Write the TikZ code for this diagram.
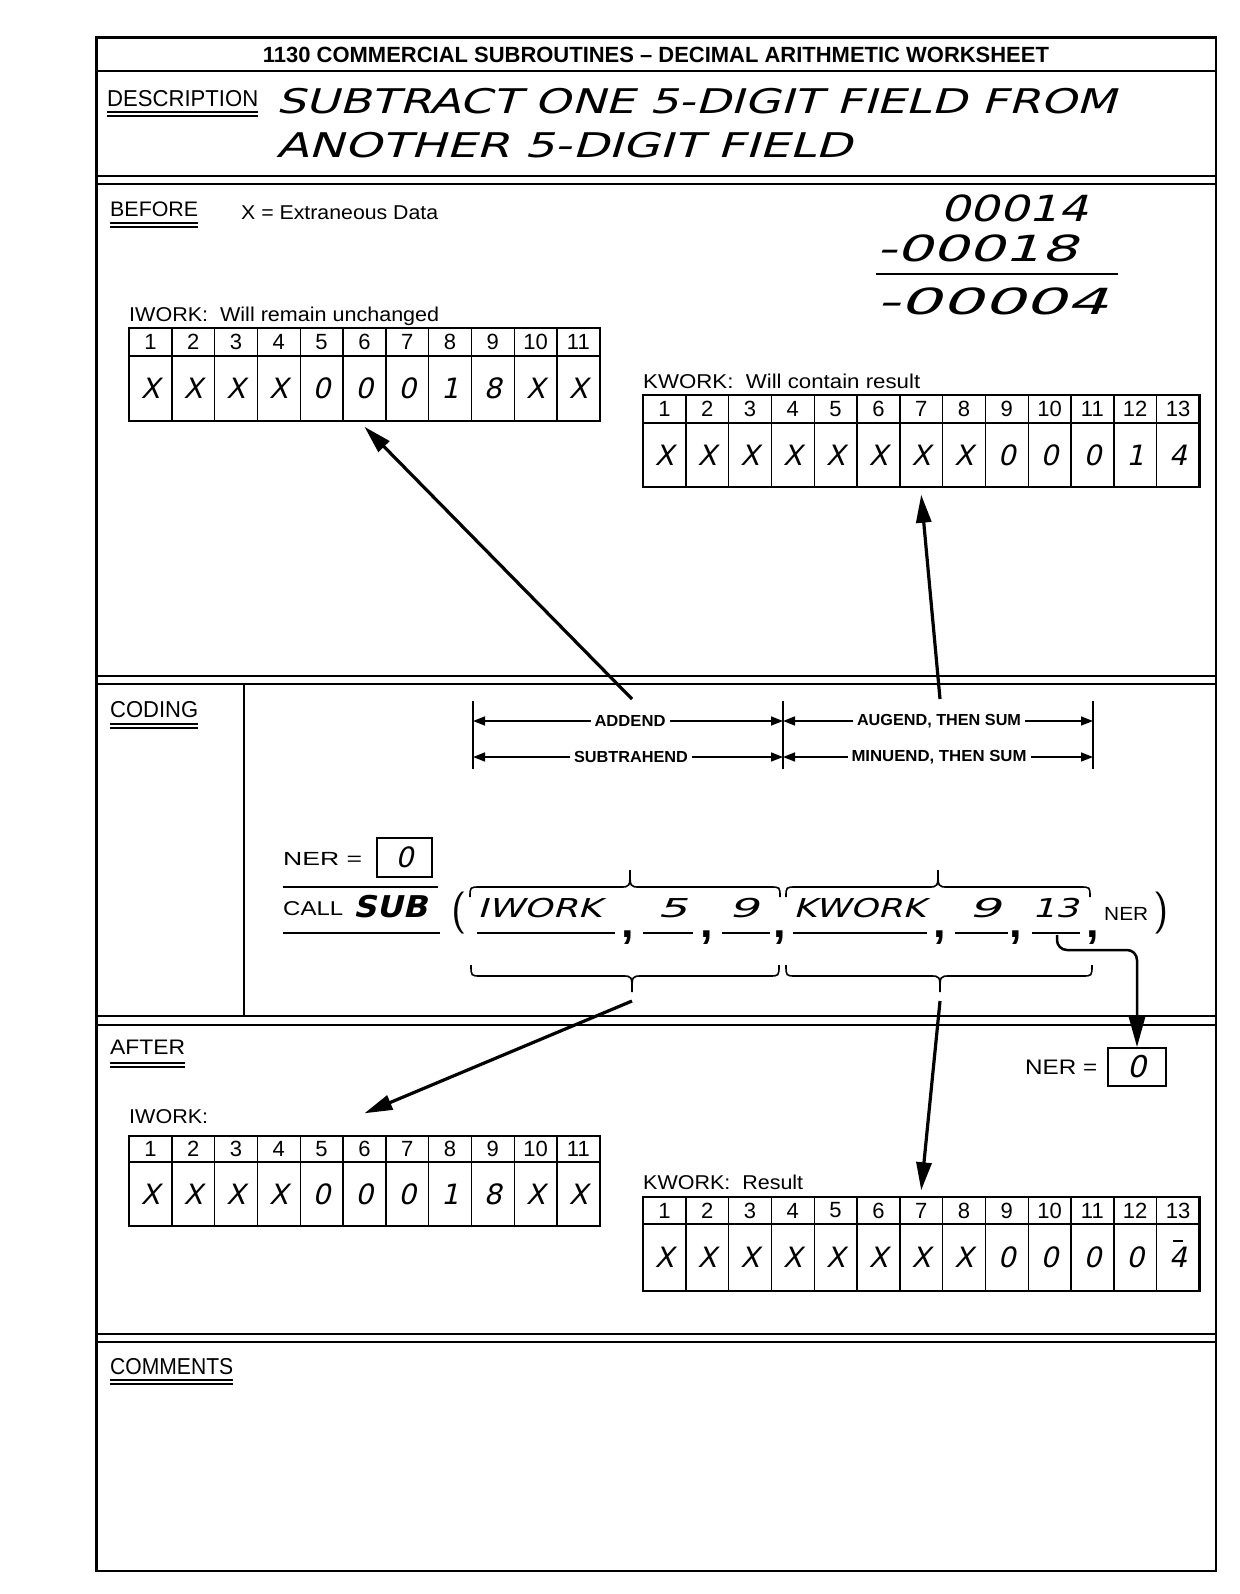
\documentclass[tikz,border=0pt]{standalone}
\usepackage{fontspec}
\usepackage{graphicx}
\setmainfont{Liberation Sans}
\newfontfamily\hand{DejaVu Sans}[FakeSlant=0.22]
\usetikzlibrary{arrows.meta}
\newcommand\fw[2]{\resizebox{#1pt}{\height}{#2}}
\newcommand\fsz[1]{\fontsize{#1}{#1}\selectfont}
\tikzset{
  txt/.style={inner sep=0, anchor=base west},
  frame/.style={line width=2.2pt},
  septhin/.style={line width=1.8pt},
  septhick/.style={line width=2.6pt},
  uline/.style={line width=1.7pt},
  argline/.style={line width=2pt},
  heavy/.style={line width=3.2pt, -{Triangle[length=28pt,width=15pt]}},
  dim/.style={line width=1.5pt, {Triangle[length=12pt,width=9pt]}-{Triangle[length=12pt,width=9pt]}},
  dlab/.style={fill=white, inner xsep=4pt, inner ysep=1pt, font=\bfseries\fsz{16}},
  brc/.style={line width=1.6pt},
  hcell/.style={draw, line width=1.4pt, inner sep=0, minimum width=42.8pt, font=\fsz{22}},
  vcell/.style={draw, line width=1.4pt, inner sep=0, minimum width=42.8pt, font=\hand\fsz{28}},
  valbox/.style={draw, line width=2pt, inner sep=0, font=\hand\fsz{28}},
}
\newcommand\wtable[7]{%
  \foreach \v [count=\i] in {#7} {%
    \node[hcell, minimum height={(#4)-(#3)}] (#1h\i) at ({#2+(\i-0.5)*42.8},{((#3)+(#4))/2}) {\i};
    \node[vcell, minimum height={(#5)-(#4)}] (#1v\i) at ({#2+(\i-0.5)*42.8},{((#4)+(#5))/2}) {\v};
  }%
  \draw[line width=2.2pt] (#2,#3) rectangle ({#2+#6*42.8},#5);
}
\newcommand\bracepath[6]{%
  \draw[brc] (#1,#4) .. controls (#1,#5) .. ({#1+10},#5) -- ({#2-10},#5)
    .. controls (#2,#5) .. (#2,#6) .. controls (#2,#5) .. ({#2+10},#5)
    -- ({#3-10},#5) .. controls (#3,#5) .. (#3,#4);
}
\newcommand\dul[3]{%
  \draw[uline] (#1,#3) -- (#2,#3);
  \draw[uline] (#1,{#3+4}) -- (#2,{#3+4});
}
\begin{document}
\begin{tikzpicture}[x=1pt,y=-1pt]
\useasboundingbox (0,0) rectangle (1239,1594);
\fill[white] (0,0) rectangle (1239,1594);

% frame and separators
\draw[frame] (96.5,37.5) rectangle (1216,1571);
\draw[frame] (96.5,71) -- (1216,71);
\foreach \a/\b in {176/184, 676/684, 1016/1025, 1334/1342} {
  \draw[septhin] (96.5,\a) -- (1216,\a);
  \draw[septhick] (96.5,\b) -- (1216,\b);
}
\draw[frame] (244,684) -- (244,1016);

% title
\node[inner sep=0, anchor=base] (title) at (656,63)
  {\fw{786}{\bfseries\fsz{22}1130 COMMERCIAL SUBROUTINES – DECIMAL ARITHMETIC WORKSHEET}};

% description
\node[txt] (desc) at (107,107) {\fw{151}{\fsz{23}DESCRIPTION}};
\dul{107}{258}{112}
\node[txt] (d1) at (276,114) {\fw{840}{\hand\fsz{34}SUBTRACT ONE 5-DIGIT FIELD FROM}};
\node[txt] (d2) at (276,158) {\fw{576}{\hand\fsz{34}ANOTHER 5-DIGIT FIELD}};

% before
\node[txt] (before) at (110,217) {\fw{88}{\fsz{21}BEFORE}};
\dul{110}{198}{223}
\node[txt] (xdata) at (241,220) {\fw{197}{\fsz{20}X = Extraneous Data}};
\node[txt] (c1) at (940,222) {\fw{148}{\hand\fsz{36}00014}};
\node[txt] (c2) at (876,262) {\fw{201}{\hand\fsz{36}-00018}};
\draw[line width=2pt] (876,274) -- (1118,274);
\node[txt] (c3) at (876,315) {\fw{232}{\hand\fsz{36}-00004}};

\node[txt] (iwl) at (129,322) {\fw{310}{\fsz{20}IWORK:\ \ Will remain unchanged}};
\wtable{ib}{129}{328}{356}{421}{11}{X,X,X,X,0,0,0,1,8,X,X}
\node[txt] (kwl) at (643,388) {\fw{277}{\fsz{20}KWORK:\ \ Will contain result}};
\wtable{kb}{643}{395}{423}{487}{13}{X,X,X,X,X,X,X,X,0,0,0,1,4}

\coordinate (a1s) at (632,699);
\coordinate (a2s) at (940,699);
\draw[heavy] (a1s) -- ([yshift=-5pt]ibv6.south);
\draw[heavy] (a2s) -- ([yshift=-7pt]kbv7.south);

% coding
\node[txt] (coding) at (110,717) {\fw{88}{\fsz{23}CODING}};
\dul{110}{198}{724}
\coordinate (t1a) at (473,701); \coordinate (t1b) at (473,769);
\coordinate (t2a) at (783,701); \coordinate (t2b) at (783,769);
\coordinate (t3a) at (1093,701); \coordinate (t3b) at (1093,769);
\coordinate (r1) at (0,721); \coordinate (r2) at (0,757);
\foreach \t in {1,2,3} \draw[line width=1.5pt] (t\t a) -- (t\t b);
\draw[dim] (t1a |- r1) -- (t2a |- r1);
\draw[dim] (t2a |- r1) -- (t3a |- r1);
\draw[dim] (t1a |- r2) -- (t2a |- r2);
\draw[dim] (t2a |- r2) -- (t3a |- r2);
\node[dlab] (addend) at (630,721) {\fw{71}{ADDEND}};
\node[dlab] (augend) at (939,721) {\fw{164}{AUGEND, THEN SUM}};
\node[dlab] (subtr) at (631,757) {\fw{114}{SUBTRAHEND}};
\node[dlab] (minuend) at (939,757) {\fw{175}{MINUEND, THEN SUM}};

\node[txt] (nerlab) at (283,865) {\fw{79}{\fsz{19}NER =}};
\node[valbox, minimum width=55pt, minimum height=39pt] (nerC) at (404.5,857.5) {0};
\draw[line width=2.5pt] (283,887) -- (438,887);
\node[txt] (call) at (283,915) {\fw{60}{\fsz{20}CALL}};
\node[txt] (sub) at (353,917) {\fw{74}{\hand\bfseries\fsz{30}SUB}};
\draw[line width=2.5pt] (283,933) -- (440,933);

\node[inner sep=0] (lpar) at (459,913) {\sffamily\fsz{42}(};
\node[inner sep=0] (rpar) at (1161,913) {\sffamily\fsz{42})};
\node[txt] (aI) at (477,917) {\fw{124}{\hand\fsz{26}IWORK}};
\node[txt] (a5) at (657,917) {\fw{30}{\hand\fsz{26}5}};
\node[txt] (a9) at (728,917) {\fw{30}{\hand\fsz{26}9}};
\node[txt] (aK) at (793,917) {\fw{132}{\hand\fsz{26}KWORK}};
\node[txt] (a9b) at (968,917) {\fw{32}{\hand\fsz{26}9}};
\node[txt] (a13) at (1032,917) {\fw{46}{\hand\fsz{26}13}};
\node[txt] (aN) at (1104,920) {\fw{44}{\fsz{19}NER}};
\foreach \a/\b in {477/615, 643/693, 722/770, 793/927, 955/1008, 1032/1080}
  \draw[argline] (\a,933) -- (\b,933);
\foreach \x [count=\n] in {628,707,780,940,1016,1093}
  \node[inner sep=0, anchor=base] (cm\n) at (\x,937) {\bfseries\fsz{45},};

\bracepath{470}{630}{780}{897}{887}{870}
\bracepath{786}{938}{1090}{897}{887}{870}
\bracepath{471}{632}{779}{965}{976}{992}
\bracepath{786}{940}{1092}{965}{976}{992}

% after
\node[txt] (after) at (110,1054) {\fw{75}{\fsz{21}AFTER}};
\dul{110}{185}{1063}
\node[txt] (nerAl) at (1025,1074) {\fw{72}{\fsz{21}NER =}};
\node[valbox, minimum width=58pt, minimum height=38pt, font=\hand\fsz{30}] (nerA) at (1137,1067) {0};
\coordinate (c13) at (1057,935);
\draw[line width=2.5pt, rounded corners=10pt, -{Triangle[length=30pt,width=16pt]}]
  (c13) -- (1057,950) -- (1137,950) -- (nerA.north);

\node[txt] (iwa) at (129,1123) {\fw{79}{\fsz{20}IWORK:}};
\wtable{ia}{129}{1136}{1162}{1226}{11}{X,X,X,X,0,0,0,1,8,X,X}
\node[txt] (kwa) at (643,1189) {\fw{160}{\fsz{20}KWORK:\ \ Result}};
\wtable{ka}{643}{1197}{1224}{1291}{13}{X,X,X,X,X,X,X,X,0,0,0,0,4}
\draw[line width=2pt] ([xshift=-5pt,yshift=17pt]kav13.center) -- ++(10,0);

\coordinate (a3s) at (632,1001);
\coordinate (a4s) at (940,1001);
\draw[heavy] (a3s) -- ([yshift=22pt]iah6.north);
\draw[heavy] (a4s) -- ([yshift=6pt]kah7.north);

% comments
\node[txt] (comments) at (110,1374) {\fw{123}{\fsz{23}COMMENTS}};
\dul{110}{233}{1380}
\end{tikzpicture}
\end{document}
